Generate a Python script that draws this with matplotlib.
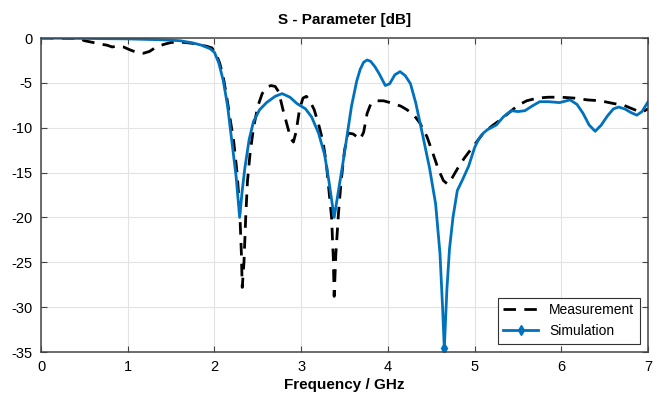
import matplotlib
matplotlib.use("Agg")
import matplotlib.pyplot as plt

plt.rcParams['font.family'] = ['Liberation Sans', 'DejaVu Sans']
plt.rcParams['axes.unicode_minus'] = False

sim_f = [0, 0.5, 1.0, 1.4, 1.6, 1.75, 1.85, 1.9, 1.95, 2.0, 2.05, 2.1, 2.15, 2.2, 2.25, 2.29,
         2.32, 2.35, 2.4, 2.45, 2.52, 2.6, 2.7, 2.78, 2.87, 2.95, 3.05, 3.12, 3.2, 3.27,
         3.32, 3.38, 3.43, 3.48, 3.53, 3.58, 3.64, 3.68, 3.72, 3.76, 3.80, 3.85, 3.9, 3.97, 4.02,
         4.08, 4.14, 4.2, 4.26, 4.32, 4.4, 4.48, 4.55, 4.6, 4.63, 4.65, 4.68, 4.71, 4.75,
         4.8, 4.86, 4.93, 5.0, 5.05, 5.1, 5.15, 5.25, 5.33, 5.42, 5.5, 5.58, 5.66, 5.75, 5.85,
         5.98, 6.1, 6.18, 6.25, 6.32, 6.39, 6.46, 6.53, 6.6, 6.66, 6.73, 6.8, 6.87, 6.93, 7.0]
sim_db = [0, -0.05, -0.1, -0.2, -0.3, -0.55, -0.8, -1.0, -1.2, -1.6, -2.8, -4.7, -7.5, -11.5, -15.5, -20,
          -17, -14.5, -11.3, -9.3, -8.0, -7.2, -6.5, -6.2, -6.6, -7.3, -7.9, -8.8, -10.6, -13,
          -16, -20, -17, -14, -10.8, -7.6, -4.8, -3.5, -2.7, -2.45, -2.6, -3.2, -4.0, -5.3, -5.1,
          -4.1, -3.75, -4.2, -5.1, -7.2, -10.8, -14.5, -18.5, -24, -30, -34.6, -28, -23.5, -20,
          -17, -15.8, -14.3, -12.2, -11.2, -10.6, -10.2, -9.7, -8.8, -8.1, -8.2, -8.1, -7.6, -7.1, -7.1,
          -7.2, -6.9, -7.4, -8.4, -9.7, -10.4, -9.7, -8.7, -7.9, -7.7, -7.9, -8.3, -8.6, -8.2, -7.1]

meas_f = [0, 0.45, 0.5, 0.6, 0.7, 0.76, 0.82, 0.88, 0.95, 1.02, 1.1, 1.18, 1.25, 1.33, 1.42,
          1.5, 1.58, 1.66, 1.75, 1.83, 1.9, 1.97, 2.02, 2.06, 2.1, 2.14, 2.18, 2.22, 2.26,
          2.29, 2.31, 2.32, 2.34, 2.36, 2.38, 2.41, 2.45, 2.5, 2.55, 2.6, 2.65, 2.7, 2.74,
          2.79, 2.84, 2.88, 2.91, 2.94, 2.98, 3.02, 3.06, 3.1, 3.15, 3.2, 3.25, 3.29, 3.32,
          3.35, 3.37, 3.38, 3.40, 3.43, 3.46, 3.5, 3.54, 3.6, 3.68, 3.72, 3.76, 3.8, 3.86,
          3.95, 4.06, 4.15, 4.22, 4.3, 4.37, 4.45, 4.52, 4.58, 4.64, 4.69, 4.74, 4.8, 4.88,
          4.95, 5.03, 5.1, 5.2, 5.3, 5.4, 5.5, 5.6, 5.72, 5.85, 6.0, 6.15, 6.3, 6.45, 6.6,
          6.72, 6.82, 6.92, 7.0]
meas_db = [0, -0.05, -0.3, -0.5, -0.7, -0.8, -1.0, -0.9, -1.0, -1.3, -1.6, -1.7, -1.5, -1.0, -0.7,
           -0.5, -0.45, -0.5, -0.6, -0.8, -0.9, -1.1, -1.8, -2.8, -4.3, -6.5, -9, -11.4, -15,
           -19, -24, -27.8, -25, -20, -16, -12.9, -10, -7.6, -6.2, -5.5, -5.3, -5.4, -6.0,
           -8.0, -9.8, -11.2, -11.6, -10.5, -8.0, -6.7, -6.5, -7.0, -8.0, -9.6, -11.5, -14, -17,
           -20, -24.5, -28.8, -24, -19.5, -16, -12.5, -10.6, -10.7, -11.3, -10.5, -8.4, -7.4, -7.0,
           -7.0, -7.3, -7.6, -8.0, -8.6, -9.5, -11, -12.9, -14.6, -15.9, -16.3, -15.6, -14.6, -13.4,
           -12.5, -11.5, -10.6, -9.8, -9.1, -8.3, -7.5, -7.0, -6.7, -6.6, -6.6, -6.7, -6.9, -7.0, -7.3,
           -7.5, -7.9, -8.3, -7.9]

x_ticks = [0, 1, 2, 3, 4, 5, 6, 7]
y_ticks = [0, -5, -10, -15, -20, -25, -30, -35]

fig = plt.figure(figsize=(6.62, 4.0), dpi=100)
ax = fig.add_axes([0.062, 0.12, 0.917, 0.785])

ax.plot(meas_f, meas_db, color='black', lw=2.0, linestyle=(0, (4.5, 3)), label='Measurement')
imin = sim_db.index(min(sim_db))
ax.plot(sim_f, sim_db, color='#0072BD', lw=2.0, marker='d', markersize=5,
        markevery=[imin], label='Simulation')

ax.set_xlim(0, 7)
ax.set_ylim(-35, 0)
ax.set_xticks(x_ticks)
ax.set_yticks(y_ticks)
ax.grid(True, color='#e3e3e3', lw=0.8)
ax.set_axisbelow(True)
ax.tick_params(direction='in', top=True, right=True, labelsize=10.5, length=4,
               color='#444444', pad=6)
for s in ax.spines.values():
    s.set_color('#444444')
    s.set_linewidth(1.1)

ax.set_title('S - Parameter [dB]', fontsize=11, fontweight='bold', pad=10)
ax.set_xlabel('Frequency / GHz', fontsize=11, fontweight='bold', labelpad=3)

leg = ax.legend(loc='lower right', fontsize=10, fancybox=False, framealpha=1,
                edgecolor='#333333', handlelength=2.5, borderaxespad=0.6)
leg.get_frame().set_linewidth(0.8)

fig.savefig('out.png', dpi=100)
